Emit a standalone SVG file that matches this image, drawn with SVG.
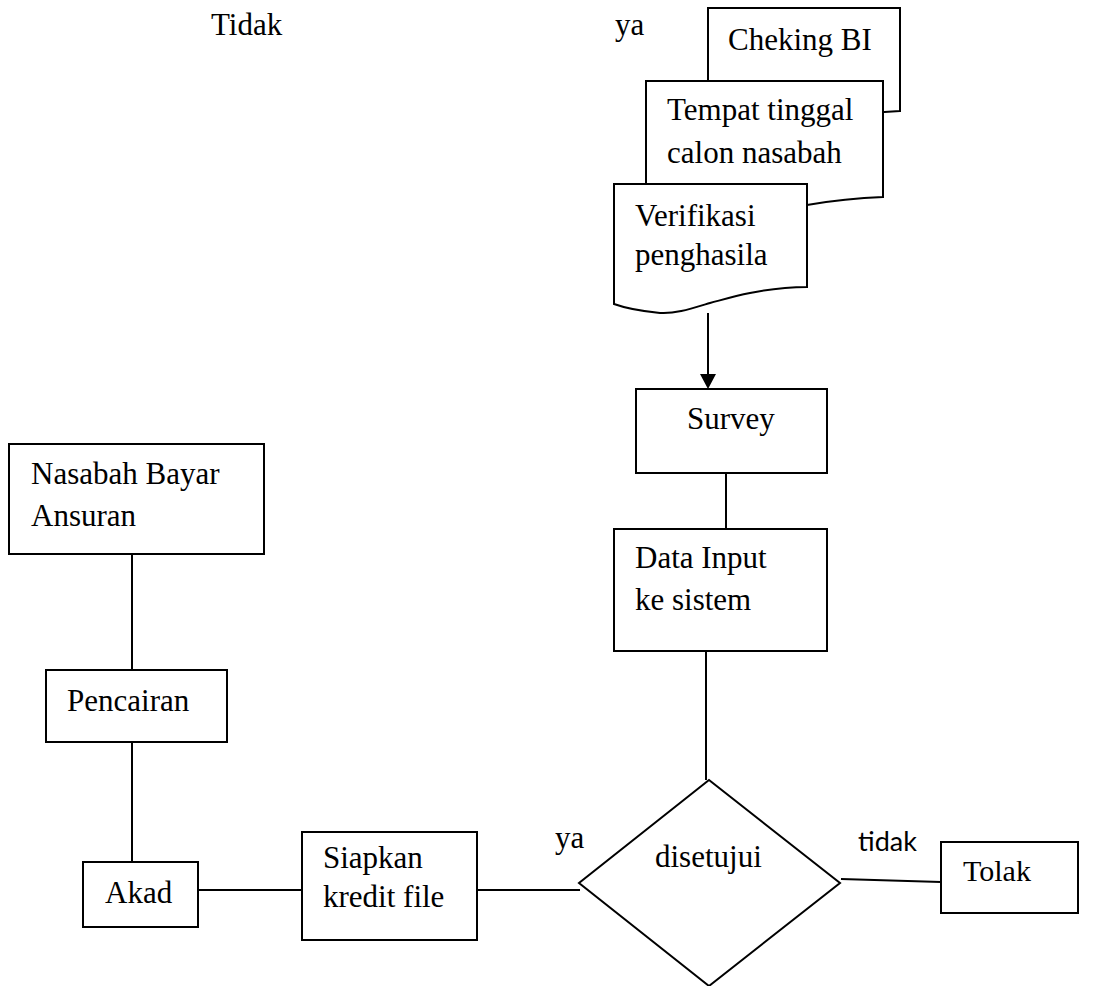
<svg xmlns="http://www.w3.org/2000/svg" width="1101" height="986" viewBox="0 0 1101 986">
<defs>
<style>
.s{fill:#fff;stroke:#000;stroke-width:2}
.c{fill:none;stroke:#000;stroke-width:2}
.t{font-family:"Liberation Serif","Times New Roman",serif;font-size:31px;fill:#000}
.ss{font-family:Lato,"Open Sans",sans-serif;font-size:27px;fill:#000}
</style>
</defs>
<rect width="1101" height="986" fill="#fff"/>
<text class="t" x="211" y="35">Tidak</text>
<text class="t" x="615" y="35">ya</text>
<text class="t" x="555" y="848">ya</text>
<text class="ss" x="858" y="851">tidak</text>
<g id="connectors">
<line class="c" x1="708" y1="313" x2="708" y2="376"/>
<path d="M700,374 L716,374 L708,389 Z" fill="#000"/>
<line class="c" x1="726" y1="473" x2="726" y2="529"/>
<line class="c" x1="706" y1="651" x2="706" y2="780"/>
<line class="c" x1="841" y1="879" x2="941" y2="882"/>
<line class="c" x1="477" y1="890" x2="580" y2="890"/>
<line class="c" x1="198" y1="890" x2="302" y2="890"/>
<line class="c" x1="132" y1="742" x2="132" y2="862"/>
<line class="c" x1="132" y1="554" x2="132" y2="670"/>
</g>
<g id="cheking">
<path class="s" d="M708,8 H900 V111 C870,112 840,116 810,124 C780,132 740,134 708,126 Z"/>
<text class="t" x="728" y="50">Cheking BI</text>
</g>
<g id="tempat">
<path class="s" d="M646,81 H883 V197 C855,198 830,201 807,205 C770,214 720,222 646,212 Z"/>
<text class="t" x="667" y="120">Tempat tinggal</text>
<text class="t" x="667" y="163">calon nasabah</text>
</g>
<g id="verifikasi">
<path class="s" d="M614,184 H807 V287 C790,287 770,289 750,293 C735,296 725,299 710,303 C690,309 675,314 660,313 C640,311 625,308 614,304 Z"/>
<text class="t" x="635" y="226">Verifikasi</text>
<text class="t" x="635" y="265">penghasila</text>
</g>
<g id="survey">
<rect class="s" x="636" y="389" width="191" height="84"/>
<text class="t" x="687" y="429">Survey</text>
</g>
<g id="datainput">
<rect class="s" x="614" y="529" width="213" height="122"/>
<text class="t" x="635" y="568">Data Input</text>
<text class="t" x="635" y="610">ke sistem</text>
</g>
<g id="disetujui">
<path class="s" d="M709,780 L840,883 L709,986 L579,883 Z"/>
<text class="t" x="655" y="867">disetujui</text>
</g>
<g id="tolak">
<rect class="s" x="941" y="842" width="137" height="71"/>
<text class="t" x="963" y="881" style="font-size:30px">Tolak</text>
</g>
<g id="siapkan">
<rect class="s" x="302" y="832" width="175" height="108"/>
<text class="t" x="323" y="868">Siapkan</text>
<text class="t" x="323" y="907">kredit file</text>
</g>
<g id="akad">
<rect class="s" x="83" y="862" width="115" height="65"/>
<text class="t" x="105" y="903">Akad</text>
</g>
<g id="pencairan">
<rect class="s" x="46" y="670" width="181" height="72"/>
<text class="t" x="67" y="711">Pencairan</text>
</g>
<g id="nasabah">
<rect class="s" x="9" y="444" width="255" height="110"/>
<text class="t" x="31" y="484">Nasabah Bayar</text>
<text class="t" x="31" y="526">Ansuran</text>
</g>
</svg>
